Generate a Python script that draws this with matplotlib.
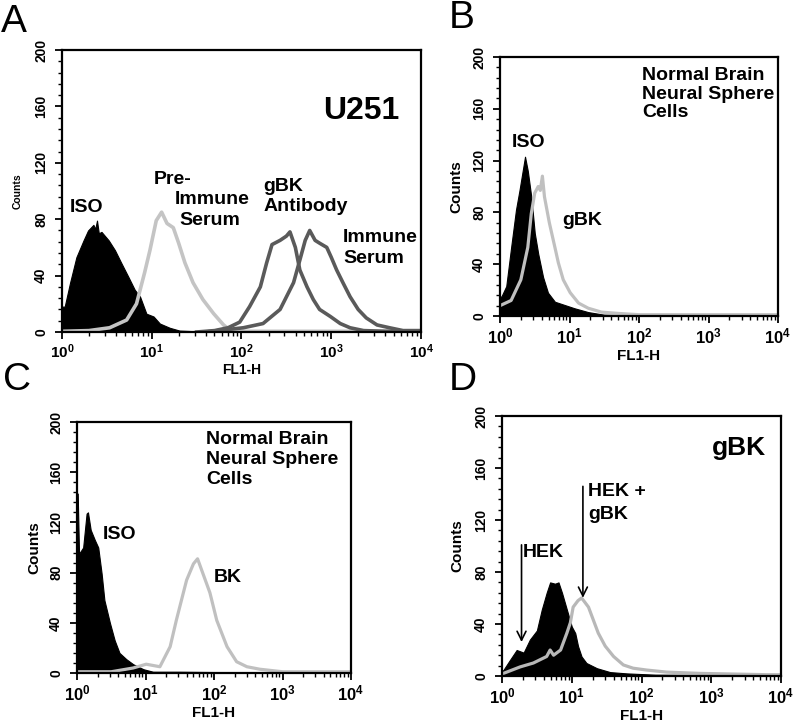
import matplotlib
matplotlib.use("Agg")
import matplotlib.pyplot as plt
from matplotlib.ticker import FixedLocator, FixedFormatter, MultipleLocator, LogLocator, NullFormatter

plt.rcParams["font.family"] = ["Liberation Sans", "DejaVu Sans"]
plt.rcParams["mathtext.fontset"] = "custom"
plt.rcParams["mathtext.rm"] = "Liberation Sans:bold"
plt.rcParams["mathtext.bf"] = "Liberation Sans:bold"

# histogram readings: x in decades of FL1-H (log10), y in counts
# panel A - U251
a_iso_x = [0.00, 0.03, 0.09, 0.16, 0.24, 0.29, 0.35, 0.37, 0.39, 0.41, 0.44, 0.52, 0.59, 0.66, 0.74,
           0.81, 0.87, 0.94, 1.02, 1.09, 1.20, 1.31, 1.50, 2.0, 3.0, 4.0]
a_iso_y = [18, 18, 35, 53, 65, 72, 76, 73, 79, 70, 71, 65, 58, 49, 39,
           30, 25, 13, 11, 6, 3, 1, 0.5, 0.5, 0.5, 0.5]
a_pre_x = [0.0, 0.3, 0.53, 0.72, 0.83, 0.92, 0.98, 1.05, 1.11, 1.17, 1.24, 1.30, 1.37, 1.46,
           1.57, 1.69, 1.80, 1.87, 2.0, 2.5, 3.0, 4.0]
a_pre_y = [0.5, 1, 3, 8.5, 20, 42, 58, 79, 85, 77, 74, 63, 49, 35, 23, 13, 5, 1.5, 0.5, 0.5, 0.5, 0.5]
a_gbk_x = [1.5, 1.7, 1.85, 1.98, 2.09, 2.21, 2.28, 2.34, 2.43, 2.50, 2.54, 2.60, 2.65, 2.73,
           2.80, 2.87, 2.99, 3.10, 3.21, 3.36, 3.6, 4.0]
a_gbk_y = [0, 1, 3, 7, 18, 32, 49, 62, 65, 68, 71, 60, 44, 32, 23, 16, 11, 6, 3, 1, 0.5, 0.5]
a_imm_x = [1.6, 2.02, 2.24, 2.43, 2.58, 2.65, 2.71, 2.76, 2.82, 2.87, 2.95, 3.00, 3.06, 3.13,
           3.21, 3.30, 3.39, 3.51, 3.65, 3.80, 4.0]
a_imm_y = [0, 3, 6, 16, 35, 51, 65, 72, 65, 63, 60, 53, 44, 35, 25, 16, 10, 5, 3, 1, 1]

# panel B - normal brain neural sphere cells, gBK
b_iso_x = [0.0, 0.02, 0.09, 0.16, 0.23, 0.28, 0.32, 0.36, 0.40, 0.43, 0.45, 0.50, 0.55, 0.62,
           0.69, 0.79, 0.93, 1.07, 1.27, 1.5, 2.0, 4.0]
b_iso_y = [15, 15, 23, 53, 82, 97, 110, 123, 112, 100, 92, 64, 48, 30, 18, 11, 8.5, 6, 3, 1, 0.5, 0.5]
b_gbk_x = [0.0, 0.02, 0.16, 0.30, 0.40, 0.45, 0.50, 0.55, 0.58, 0.61, 0.64, 0.71, 0.79, 0.84,
           0.91, 1.01, 1.13, 1.27, 1.46, 1.7, 2.0, 3.0, 4.0]
b_gbk_y = [8, 8.5, 12, 28, 53, 79, 95, 100, 97, 108, 92, 72, 53, 41, 28, 18, 10, 6, 3, 2, 1, 1, 1]

# panel C - normal brain neural sphere cells, BK
c_iso_x = [0.0, 0.01, 0.03, 0.09, 0.14, 0.16, 0.20, 0.26, 0.31, 0.36, 0.40, 0.48, 0.55, 0.62,
           0.72, 0.82, 0.97, 1.11, 1.5, 2.5, 4.0]
c_iso_y = [143, 143, 95, 100, 127, 128, 114, 106, 100, 79, 58, 40, 26, 16, 11, 7, 3, 1, 1, 0.5, 0.5]
c_bk_x = [0.0, 0.5, 0.82, 1.01, 1.21, 1.36, 1.45, 1.60, 1.70, 1.76, 1.84, 1.94, 2.04, 2.19,
          2.33, 2.48, 2.67, 3.0, 3.5, 4.0]
c_bk_y = [1, 1, 4, 7, 5, 21, 42, 74, 87, 91, 79, 64, 42, 21, 9, 5, 3, 1, 1, 1]

# panel D - HEK vs HEK + gBK
d_hek_x = [0.0, 0.02, 0.11, 0.21, 0.31, 0.40, 0.50, 0.57, 0.64, 0.69, 0.76, 0.81, 0.86, 0.93,
           1.00, 1.05, 1.09, 1.14, 1.21, 1.36, 1.55, 1.79, 2.2, 4.0]
d_hek_y = [4, 4.6, 12, 20, 18, 28, 35, 51, 64, 72, 71, 72, 64, 51, 38, 33, 23, 15, 10, 6, 3, 2, 1, 0.5]
d_gbk_x = [0.0, 0.02, 0.26, 0.45, 0.64, 0.69, 0.74, 0.84, 0.93, 0.98, 1.02, 1.09, 1.14, 1.17,
           1.24, 1.31, 1.38, 1.48, 1.60, 1.74, 1.88, 2.07, 2.36, 2.84, 3.8, 4.0]
d_gbk_y = [2, 2, 7, 10, 15, 20, 16, 20, 33, 41, 53, 58, 60, 58, 53, 43, 33, 23, 15, 8.5, 6, 4.6,
           3, 2, 1, 1]

y_ticks = [0, 40, 80, 120, 160, 200]
x_ticks = [1, 10, 100, 1000, 10000]
x_tick_labels = [r"$\mathbf{10^{%d}}$" % k for k in range(5)]

W, H = 796, 728
fig = plt.figure(figsize=(W / 100, H / 100), dpi=100)


def box(left, right, top, bottom):
    return fig.add_axes([left / W, 1 - bottom / H, (right - left) / W, (bottom - top) / H])


def fl(dec):
    return [10 ** d for d in dec]


def style(ax, w, h, counts_size, counts_off, xlab_off, xlab_size=11, xtick_size=12):
    ax.set_xscale("log")
    ax.set_xlim(1, 1e4)
    ax.set_ylim(0, 200)
    ax.xaxis.set_major_locator(FixedLocator(x_ticks))
    ax.xaxis.set_major_formatter(FixedFormatter(x_tick_labels))
    ax.xaxis.set_minor_locator(LogLocator(base=10, subs=range(2, 10)))
    ax.xaxis.set_minor_formatter(NullFormatter())
    ax.set_yticks(y_ticks)
    ax.set_yticklabels([str(t) for t in y_ticks], rotation=90, va="center",
                       fontsize=10, fontweight="bold")
    ax.yaxis.set_minor_locator(MultipleLocator(8))
    ax.tick_params(axis="x", which="major", length=5, width=1.3, pad=2.5, labelsize=xtick_size)
    ax.tick_params(axis="x", which="minor", length=3, width=1.0)
    ax.tick_params(axis="y", which="major", length=5, width=1.3, pad=5)
    ax.tick_params(axis="y", which="minor", length=3, width=1.0)
    for s in ax.spines.values():
        s.set_linewidth(1.6)
    ax.text(-counts_off / w, 0.5, "Counts", transform=ax.transAxes, rotation=90,
            ha="center", va="center", fontsize=counts_size, fontweight="bold")
    ax.text(0.5, -xlab_off / h, "FL1-H", transform=ax.transAxes,
            ha="center", va="center", fontsize=xlab_size, fontweight="bold")


lbl = dict(fontsize=14, fontweight="bold")

# A
ax = box(62, 421, 50, 332)
style(ax, 359, 282, 7.5, 44, 38, 10, 11)
ax.fill_between(fl(a_iso_x), a_iso_y, color="black", lw=0.8)
ax.plot(fl(a_pre_x), a_pre_y, color="#c4c4c4", lw=2.6)
ax.plot(fl(a_gbk_x), a_gbk_y, color="#5a5a5a", lw=2.6)
ax.plot(fl(a_imm_x), a_imm_y, color="#5a5a5a", lw=2.6)
ax.text(10 ** 2.91, 157, "U251", fontsize=23, fontweight="bold", va="center")
ax.text(10 ** 0.09, 88, "ISO", va="center", **lbl)
ax.text(10 ** 1.02, 108, "Pre-", va="center", **lbl)
ax.text(10 ** 1.26, 94, "Immune", va="center", **lbl)
ax.text(10 ** 1.31, 79, "Serum", va="center", **lbl)
ax.text(10 ** 2.24, 103, "gBK", va="center", **lbl)
ax.text(10 ** 2.24, 89, "Antibody", va="center", **lbl)
ax.text(10 ** 3.13, 67, "Immune", va="center", **lbl)
ax.text(10 ** 3.13, 52, "Serum", va="center", **lbl)

# B
ax = box(500, 778, 57, 316)
style(ax, 278, 259, 11, 44, 40)
ax.fill_between(fl(b_iso_x), b_iso_y, color="black", lw=0.8)
ax.plot(fl(b_gbk_x), b_gbk_y, color="#c0c0c0", lw=2.3)
ax.text(10 ** 2.04, 192, "Normal Brain\nNeural Sphere\nCells", va="top", linespacing=1.1, **lbl)
ax.text(10 ** 0.17, 134, "ISO", va="center", **lbl)
ax.text(10 ** 0.89, 74, "gBK", va="center", **lbl)

# C
ax = box(77, 351, 422, 673)
style(ax, 274, 251, 11, 43, 40)
ax.fill_between(fl(c_iso_x), c_iso_y, color="black", lw=0.8)
ax.plot(fl(c_bk_x), c_bk_y, color="#c0c0c0", lw=2.3)
ax.text(10 ** 1.88, 193, "Normal Brain\nNeural Sphere\nCells", va="top", linespacing=1.22, **lbl)
ax.text(10 ** 0.38, 110, "ISO", va="center", **lbl)
ax.text(10 ** 1.99, 76, "BK", va="center", **lbl)

# D
ax = box(502, 781, 416, 676)
style(ax, 279, 260, 11, 45, 40)
ax.fill_between(fl(d_hek_x), d_hek_y, color="black", lw=0.8)
ax.plot(fl(d_gbk_x), d_gbk_y, color="#b8b8b8", lw=2.3)
ax.text(10 ** 3.01, 175, "gBK", fontsize=19, fontweight="bold", va="center")
ax.text(10 ** 1.23, 142, "HEK +", va="center", **lbl)
ax.text(10 ** 1.23, 124, "gBK", va="center", **lbl)
ax.text(10 ** 0.30, 95, "HEK", va="center", **lbl)
arrow = dict(arrowstyle="->", color="black", lw=1.2, mutation_scale=16)
ax.annotate("", xy=(10 ** 0.28, 24), xytext=(10 ** 0.28, 103), arrowprops=arrow)
ax.annotate("", xy=(10 ** 1.16, 58), xytext=(10 ** 1.16, 148), arrowprops=arrow)

# panel letters
for letter, x, y in [("A", 1, 32), ("B", 449, 28), ("C", 3, 390), ("D", 449, 390)]:
    fig.text(x / W, 1 - y / H, letter, fontsize=28, ha="left", va="baseline")

fig.savefig("out.png", dpi=100)
